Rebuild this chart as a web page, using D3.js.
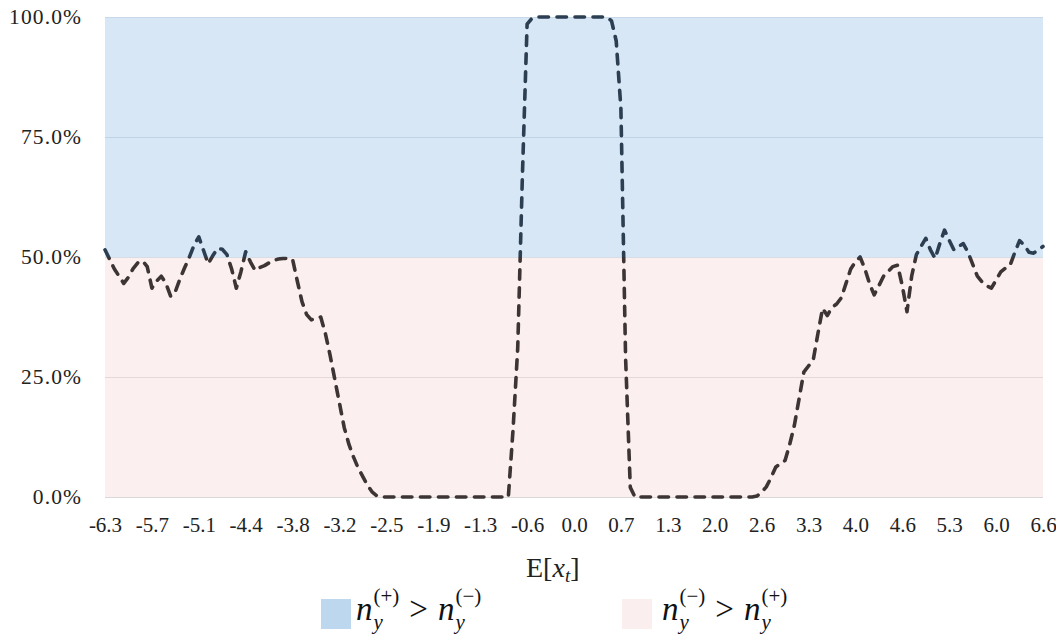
<!DOCTYPE html>
<html>
<head>
<meta charset="utf-8">
<script src="https://cdn.jsdelivr.net/npm/d3@7"></script>
<style>
  body { margin: 0; background: #ffffff; }
  svg { display: block; }
</style>
</head>
<body>
<svg id="chart" width="1056" height="637"></svg>
<script>
// Category labels shown under the x axis (one every ten samples)
const tickLabels = ["-6.3", "-5.7", "-5.1", "-4.4", "-3.8", "-3.2", "-2.5", "-1.9", "-1.3", "-0.6",
  "0.0", "0.7", "1.3", "2.0", "2.6", "3.3", "4.0", "4.6", "5.3", "6.0", "6.6"];

// Percentage ticks on the y axis
const yTickValues = [0, 25, 50, 75, 100];

// Share of samples (in %) along E[x_t]
const shareValues = [
  51.5, 49.5, 47.5, 46.0, 44.5, 45.8, 47.6, 48.8, 49.2, 48.0,
  43.5, 45.0, 46.0, 44.5, 41.8, 42.8, 45.5, 47.8, 50.0, 52.5,
  54.2, 51.4, 48.6, 50.3, 51.8, 51.6, 50.5, 47.5, 43.5, 47.0,
  51.1, 49.0, 47.2, 47.8, 48.2, 48.8, 49.3, 49.6, 49.7, 49.7,
  49.5, 45.0, 40.7, 38.0, 36.9, 37.2, 37.5, 34.0, 29.5, 24.5,
  19.5, 14.5, 11.0, 8.3, 6.0, 4.2, 2.4, 1.0, 0.2, 0.0,
  0, 0, 0, 0, 0, 0, 0, 0, 0, 0,
  0, 0, 0, 0, 0, 0, 0, 0, 0, 0,
  0, 0, 0, 0, 0, 0, 0, 14.0, 31.0, 67.0,
  98.5, 99.7, 100, 100, 100, 100, 100, 100, 100, 100,
  100, 100, 100, 100, 100, 100, 100, 100, 99.2, 95.0,
  81.0, 29.0, 2.0, 0, 0, 0, 0, 0, 0, 0,
  0, 0, 0, 0, 0, 0, 0, 0, 0, 0,
  0, 0, 0, 0, 0, 0, 0, 0, 0, 0.2,
  1.0, 2.1, 4.0, 6.2, 7.0, 7.6, 11.0, 15.0, 20.5, 26.0,
  27.3, 28.5, 34.0, 39.3, 37.8, 39.5, 40.2, 41.5, 44.5, 47.5,
  49.0, 50.0, 47.6, 44.5, 42.1, 44.0, 46.0, 47.0, 48.0, 48.3,
  44.0, 38.6, 46.0, 50.5, 52.2, 53.9, 51.5, 49.7, 52.8, 55.6,
  53.5, 51.5, 52.2, 52.8, 51.0, 48.5, 46.0, 44.8, 44.0, 43.5,
  45.2, 46.9, 47.7, 48.3, 51.0, 53.4, 52.5, 51.0, 50.8, 51.5,
  52.2
];

const svg = d3.select("#chart");
const plot = { left: 105, right: 1043, top: 17, bottom: 497 };
const serif = "'Liberation Serif', 'Times New Roman', serif";

const lastIndex = shareValues.length - 1;
const labelStep = lastIndex / (tickLabels.length - 1);

const x = d3.scaleLinear().domain([0, lastIndex]).range([plot.left, plot.right]);
const y = d3.scaleLinear().domain([0, 100]).range([plot.bottom, plot.top]);

// Two background zones: above and below 50%
svg.append("rect")
  .attr("x", x(0)).attr("y", y(100))
  .attr("width", x(lastIndex) - x(0)).attr("height", y(50) - y(100))
  .attr("fill", "#d7e7f5");
svg.append("rect")
  .attr("x", x(0)).attr("y", y(50))
  .attr("width", x(lastIndex) - x(0)).attr("height", y(0) - y(50))
  .attr("fill", "#fbf0ef");

// Horizontal gridlines
const gridColor = { 0: "#d9d9d9", 25: "#e4d8d8", 50: "#d6dde5", 75: "#bfd3e6", 100: "#c6d8ea" };
svg.append("g")
  .selectAll("line")
  .data(yTickValues)
  .join("line")
  .attr("x1", x(0)).attr("x2", x(lastIndex))
  .attr("y1", d => y(d) + 0.5).attr("y2", d => y(d) + 0.5)
  .attr("stroke", d => gridColor[d])
  .attr("stroke-width", 1);

// Y axis labels
const yAxis = d3.axisLeft(y)
  .tickValues(yTickValues)
  .tickFormat(d => d.toFixed(1) + "%")
  .tickSize(0)
  .tickPadding(23);
const gy = svg.append("g").attr("transform", `translate(${plot.left},0)`).call(yAxis);
gy.select(".domain").remove();
gy.selectAll("text")
  .attr("font-family", serif).attr("font-size", 21.5)
  .attr("letter-spacing", 1.1).attr("fill", "#222");

// X axis labels
const xAxis = d3.axisBottom(x)
  .tickValues(tickLabels.map((_, i) => i * labelStep))
  .tickFormat((d, i) => tickLabels[i])
  .tickSize(0)
  .tickPadding(20);
const gx = svg.append("g").attr("transform", `translate(0,${plot.bottom})`).call(xAxis);
gx.select(".domain").remove();
gx.selectAll("text")
  .attr("font-family", serif).attr("font-size", 21).attr("fill", "#222");

// Axis title E[x_t]
const title = svg.append("text")
  .attr("x", 526).attr("y", 577)
  .attr("font-family", serif).attr("font-size", 28).attr("fill", "#222");
title.append("tspan").text("E[");
title.append("tspan").attr("font-style", "italic").text("x");
title.append("tspan").attr("font-style", "italic").attr("font-size", 19).attr("dy", 5).text("t");
title.append("tspan").attr("dy", -5).text("]");

// Dashed line, coloured differently above and below the 50% boundary
const defs = svg.append("defs");
defs.append("clipPath").attr("id", "clip-upper")
  .append("rect").attr("x", 0).attr("y", 0).attr("width", 1056).attr("height", y(50));
defs.append("clipPath").attr("id", "clip-lower")
  .append("rect").attr("x", 0).attr("y", y(50)).attr("width", 1056).attr("height", 637 - y(50));

const line = d3.line()
  .x((d, i) => x(i))
  .y(d => y(d));

[["clip-upper", "#2c3e51"], ["clip-lower", "#3d3535"]].forEach(([clip, color]) => {
  svg.append("path")
    .datum(shareValues)
    .attr("clip-path", `url(#${clip})`)
    .attr("d", line)
    .attr("fill", "none")
    .attr("stroke", color)
    .attr("stroke-width", 3.6)
    .attr("stroke-dasharray", "9.5,8.5")
    .attr("stroke-linecap", "round")
    .attr("stroke-linejoin", "round");
});

// Legend
function mathLabel(g, x0, baseline, top, bottom) {
  const big = 33, small = 21;
  let cx = x0;
  function piece(base, sup, sub) {
    const b = g.append("text").attr("x", cx).attr("y", baseline)
      .attr("font-family", serif).attr("font-size", big).attr("font-style", "italic")
      .attr("fill", "#111").text(base);
    cx += b.node().getComputedTextLength() + 1;
    const s1 = g.append("text").attr("x", cx).attr("y", baseline - 17)
      .attr("font-family", serif).attr("font-size", small).attr("fill", "#111").text(sup);
    const s2 = g.append("text").attr("x", cx).attr("y", baseline + 9)
      .attr("font-family", serif).attr("font-size", small).attr("font-style", "italic")
      .attr("fill", "#111").text(sub);
    cx += Math.max(s1.node().getComputedTextLength(), s2.node().getComputedTextLength());
  }
  piece("n", top, "y");
  cx += 10;
  const gt = g.append("text").attr("x", cx).attr("y", baseline)
    .attr("font-family", serif).attr("font-size", big).attr("fill", "#111").text(">");
  cx += gt.node().getComputedTextLength() + 10;
  piece("n", bottom, "y");
}

const legend = svg.append("g");
legend.append("rect").attr("x", 321).attr("y", 599).attr("width", 30).attr("height", 30).attr("fill", "#bdd7ee");
mathLabel(legend, 356, 620, "(+)", "(\u2212)");
legend.append("rect").attr("x", 622).attr("y", 599).attr("width", 30).attr("height", 30).attr("fill", "#fbeeee");
mathLabel(legend, 662, 620, "(\u2212)", "(+)");
</script>
</body>
</html>
